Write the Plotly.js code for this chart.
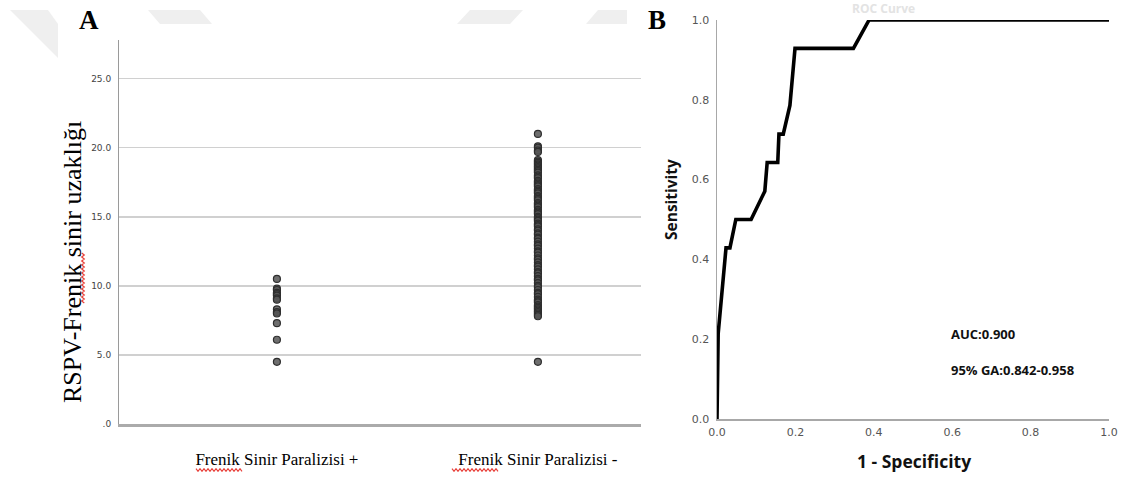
<!DOCTYPE html>
<html>
<head>
<meta charset="utf-8">
<script src="https://cdn.plot.ly/plotly-3.0.1.min.js"></script>
<style>html,body{margin:0;padding:0;background:#fff;}#chart{width:1126px;height:477px;}</style>
</head>
<body>
<div id="chart"></div>
<script>
// ---------- Data ----------
const categories = ["Frenik Sinir Paralizisi +", "Frenik Sinir Paralizisi -"];
const distancePos = [10.5, 9.8, 9.7, 9.5, 9.4, 9.3, 9.1, 9.0, 8.3, 8.1, 8.0, 7.3, 6.1, 4.5];
const distanceNeg = [21.0, 20.1, 20.0, 19.8, 19.7, 19.1, 19.0, 18.9, 18.8, 18.7, 18.6, 18.5, 18.4,
  18.3, 18.2, 18.0, 17.9, 17.8, 17.6, 17.5, 17.4, 17.3, 17.2, 17.0, 16.9, 16.8, 16.7, 16.5, 16.4,
  16.3, 16.2, 16.0, 15.9, 15.8, 15.7, 15.5, 15.4, 15.3, 15.2, 15.0, 14.9, 14.8, 14.7, 14.5, 14.4,
  14.3, 14.1, 14.0, 13.8, 13.7, 13.5, 13.4, 13.2, 13.0, 12.9, 12.7, 12.5, 12.4, 12.2, 12.0, 11.9,
  11.7, 11.5, 11.4, 11.2, 11.0, 10.9, 10.7, 10.5, 10.4, 10.2, 10.0, 9.9, 9.7, 9.5, 9.4, 9.2, 9.0,
  8.9, 8.8, 8.6, 8.5, 8.4, 8.3, 8.2, 8.1, 8.0, 7.9, 7.8, 4.5];
const distTickVals = [0, 5, 10, 15, 20, 25];
const distTickText = [".0", "5.0", "10.0", "15.0", "20.0", "25.0"];

const rocFpr = [0, 0.003, 0.023, 0.033, 0.048, 0.087, 0.122, 0.128, 0.155, 0.158, 0.169, 0.186, 0.199, 0.348, 0.388, 1.0];
const rocTpr = [0, 0.214, 0.429, 0.429, 0.500, 0.500, 0.571, 0.643, 0.643, 0.714, 0.714, 0.786, 0.929, 0.929, 1.0, 1.0];
const rocTickVals = [0, 0.2, 0.4, 0.6, 0.8, 1.0];
const rocTickText = ["0.0", "0.2", "0.4", "0.6", "0.8", "1.0"];
const aucText = "AUC:0.900";
const ciText = "95% GA:0.842-0.958";

// ---------- Helpers ----------
const W = 1126, H = 477;
const px = x => x / W;
const py = y => 1 - y / H;

const markerStyle = {size: 7, color: "rgba(85,85,85,0.85)", line: {color: "#2e2e2e", width: 1.2}};

const traces = [
  {type: "scatter", mode: "markers", x: distancePos.map(() => categories[0]), y: distancePos,
   xaxis: "x", yaxis: "y", marker: markerStyle, hoverinfo: "y"},
  {type: "scatter", mode: "markers", x: distanceNeg.map(() => categories[1]), y: distanceNeg,
   xaxis: "x", yaxis: "y", marker: markerStyle, hoverinfo: "y"},
  {type: "scatter", mode: "lines", x: rocFpr, y: rocTpr, xaxis: "x2", yaxis: "y2",
   line: {color: "#000", width: 3.6}, cliponaxis: false}
];

// red spell-check squiggles (decoration)
function squiggle(x0, x1, y, vertical) {
  let d = "";
  let i = 0;
  for (let t = 0; t <= (x1 - x0); t += 2, i++) {
    const off = (i % 2 === 0) ? -1.3 : 1.3;
    let X, Y;
    if (!vertical) { X = x0 + t; Y = y + off; } else { X = y + off; Y = x0 + t; }
    d += (i === 0 ? "M" : "L") + px(X).toFixed(5) + "," + py(Y).toFixed(5);
  }
  return {type: "path", xref: "paper", yref: "paper", path: d, line: {color: "#e8403a", width: 1.2}};
}

const shapes = [
  // faint watermark marks at top
  {type: "path", xref: "paper", yref: "paper", layer: "below", line: {width: 0}, fillcolor: "#efefef",
   path: `M${px(10)},${py(10)} L${px(48)},${py(10)} L${px(58)},${py(24)} L${px(58)},${py(58)} Z`},
  {type: "path", xref: "paper", yref: "paper", layer: "below", line: {width: 0}, fillcolor: "#efefef",
   path: `M${px(148)},${py(10)} L${px(200)},${py(10)} L${px(212)},${py(24)} L${px(160)},${py(24)} Z`},
  {type: "path", xref: "paper", yref: "paper", layer: "below", line: {width: 0}, fillcolor: "#efefef",
   path: `M${px(470)},${py(10)} L${px(523)},${py(10)} L${px(510)},${py(24)} L${px(457)},${py(24)} Z`},
  {type: "path", xref: "paper", yref: "paper", layer: "below", line: {width: 0}, fillcolor: "#efefef",
   path: `M${px(598)},${py(10)} L${px(627)},${py(10)} L${px(627)},${py(24)} L${px(586)},${py(24)} Z`},
  squiggle(253, 303, 83, true),
  squiggle(196, 243, 470, false),
  squiggle(452, 499, 470, false)
];

const ann = (text, x, y, font, extra) => Object.assign({
  text: text, x: px(x), y: py(y), xref: "paper", yref: "paper", showarrow: false,
  xanchor: "center", yanchor: "middle", font: font}, extra || {});

const annotations = [
  ann("<b>A</b>", 89, 20, {family: "Liberation Serif", size: 27, color: "#000"}),
  ann("<b>B</b>", 657, 20, {family: "Liberation Serif", size: 27, color: "#000"}),
  ann("RSPV-Frenik sinir uzaklığı", 72, 262, {family: "Liberation Serif", size: 26, color: "#000"}, {textangle: -90}),
  ann("<b>Sensitivity</b>", 671, 200, {family: "Open Sans", size: 15.5, color: "#111"}, {textangle: -90}),
  ann("<b>1 - Specificity</b>", 914, 461, {family: "Open Sans", size: 17.5, color: "#111"}),
  ann("<b>" + aucText + "</b>", 949, 334, {family: "Open Sans", size: 13, color: "#111"}, {xanchor: "left"}),
  ann("<b>" + ciText + "</b>", 949, 370, {family: "Open Sans", size: 13, color: "#111"}, {xanchor: "left"}),
  ann("<b>ROC Curve</b>", 883, 9, {family: "Open Sans", size: 12, color: "#e3e3e3"})
];

const layout = {
  width: W, height: H,
  margin: {l: 0, r: 0, t: 0, b: 0, pad: 0},
  paper_bgcolor: "#fff", plot_bgcolor: "#fff",
  showlegend: false,
  xaxis: {
    domain: [px(119), px(641)], anchor: "y", type: "category",
    range: [-0.605, 1.395], fixedrange: true,
    showline: true, linecolor: "#ababab", linewidth: 2.5,
    showgrid: false, zeroline: false, ticks: "",
    tickfont: {family: "Liberation Serif", size: 17, color: "#000"},
    ticklabelstandoff: 18
  },
  yaxis: {
    domain: [py(424), py(40)], anchor: "x", range: [0, 27.8],
    tickvals: distTickVals, ticktext: distTickText,
    tickfont: {family: "DejaVu Sans", size: 9, color: "#444"},
    showgrid: true, gridcolor: "#d0d0d0", gridwidth: 1.5,
    showline: true, linecolor: "#9a9a9a", linewidth: 1,
    zeroline: false, ticks: "", ticklabelstandoff: 5
  },
  xaxis2: {
    domain: [px(717), px(1109)], anchor: "y2", range: [0, 1],
    tickvals: rocTickVals, ticktext: rocTickText,
    tickfont: {family: "DejaVu Sans", size: 11, color: "#555"},
    showline: true, linecolor: "#a8a8a8", linewidth: 2,
    showgrid: false, zeroline: false, ticks: "", ticklabelstandoff: 2
  },
  yaxis2: {
    domain: [py(419), py(20)], anchor: "x2", range: [0, 1],
    tickvals: rocTickVals, ticktext: rocTickText,
    tickfont: {family: "DejaVu Sans", size: 11, color: "#555"},
    showline: true, linecolor: "#a8a8a8", linewidth: 1.5,
    showgrid: false, zeroline: false, ticks: "", ticklabelstandoff: 4
  },
  shapes: shapes,
  annotations: annotations
};

Plotly.newPlot("chart", traces, layout, {displayModeBar: false, staticPlot: true});
</script>
</body>
</html>
